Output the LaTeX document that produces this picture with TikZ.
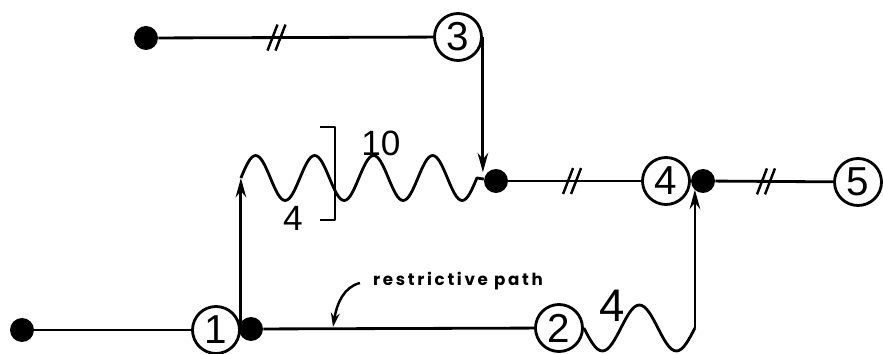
\documentclass[tikz,border=0pt]{standalone}
\usepackage{fontspec}
\setmainfont{Liberation Sans}
\newfontfamily\pathfont[LetterSpace=16]{Poppins}
\usetikzlibrary{arrows.meta}

\begin{document}
\begin{tikzpicture}[x=0.02cm, y=-0.02cm,
		% Define styles
		numnode/.style={circle, draw=black, line width=1.6pt, minimum size=0.94cm, inner sep=0pt, font=\fontsize{23}{23}\selectfont},
		dotnode/.style={circle, fill=black, minimum size=0.48cm, inner sep=0pt},
		flowline/.style={line width=1.6pt, line join=round},
		flowarrow/.style={-{Stealth[length=11pt, width=6pt]}, line width=1.6pt},
		pointer/.style={-{Stealth[length=8pt, width=5pt]}, line width=1.4pt},
		numlabel/.style={inner sep=0pt, font=\fontsize{20}{20}\selectfont},
		dslash/.pic={\draw[line width=1.4pt] (-9,13) -- (1,-13) (-1,13) -- (9,-13);}
		]
		
		% Frame
		\useasboundingbox (0,0) rectangle (883,354);
		
		% Top row
		\node[dotnode] (d0) at (146,38) {};
		\node[numnode] (c3) at (458,37) {3};
		
		% Middle row
		\node[dotnode] (dB) at (496,181) {};
		\node[numnode] (c4) at (666,181) {4};
		\node[dotnode] (dC) at (703,181) {};
		\node[numnode] (c5) at (858,182) {5};
		
		% Bottom row
		\node[dotnode] (dL) at (22,330) {};
		\node[numnode] (c1) at (216,330) {1};
		\node[dotnode] (dA) at (251,329) {};
		\node[numnode] (c2) at (559,328) {2};
		
		% Straight links
		\draw[flowline] (d0) -- pic[pos=0.43] {dslash} (c3);
		\draw[flowline] (dB) -- pic[pos=0.48] {dslash} (c4);
		\draw[flowline] (dC) -- pic[pos=0.43] {dslash} (c5);
		\draw[flowline] (dL) -- (c1);
		\draw[flowline] (dA) -- (c2);
		
		% Vertical arrows
		\coordinate (w1) at (c1.east |- 0,178);
		\draw[flowarrow] (c3.east) -- (c3.east |- dB.north west);
		\draw[flowarrow] (c1.east) -- (w1);
		
		% Wavy links
		\draw[flowline] (w1) \foreach \i in {1,...,4} {sin ++(14.75,-22.5) cos ++(14.75,22.5) sin ++(14.75,22.5) cos ++(14.75,-22.5)} -- (dB);
		\draw[flowline] (c2.east) sin ++(18.5,23) cos ++(18.5,-23) sin ++(18.5,-23) cos ++(18.5,23) sin ++(18.5,23) cos ++(18.5,-23) coordinate (w2);
		\draw[flowarrow] (w2) -- (w2 |- dC.south west);
		
		% Bracket and lengths
		\draw[flowline] (320,127) -| (335,220) -- (320,220);
		\node[numlabel] (len10) at (381,143) {10};
		\node[numlabel] (len4) at (293,218) {4};
		\node[numlabel, font=\fontsize{26}{26}\selectfont] (len4b) at (612,306) {4};
		
		% Restrictive path note
		\node[font=\pathfont\bfseries\fontsize{9.5}{9.5}\selectfont] (rp) at (458,281) {restrictive path};
		\coordinate (rpt) at (333,327);
		\draw[pointer] ([xshift=-0.14cm, yshift=-0.04cm]rp.west) .. controls +(-16,4) and +(4,-24) .. (rpt);
		
	\end{tikzpicture}
\end{document}
